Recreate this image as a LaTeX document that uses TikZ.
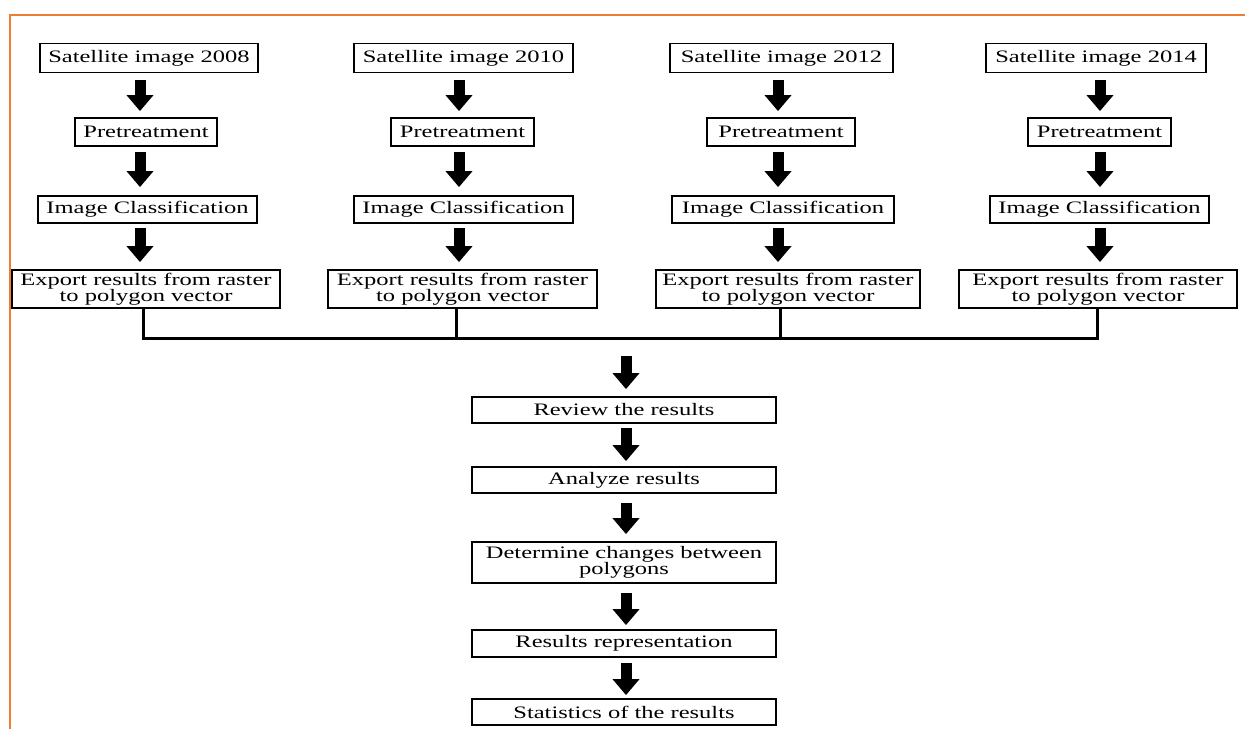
\documentclass[tikz,border=0pt]{standalone}
\usepackage{fontspec}
\setmainfont{Liberation Serif}[FakeStretch=1.4]
\usetikzlibrary{arrows.meta,calc}
\definecolor{frameorange}{RGB}{237,125,49}
\begin{document}
\begin{tikzpicture}[x=1pt,y=-1pt,
  box/.style={draw=black,line width=1.8pt,fill=white,inner sep=0pt,align=center,
    font=\fontsize{17.5}{16}\selectfont},
  bigarrow/.style={line width=11pt,-{Triangle[width=26pt,length=16pt]}},
  conn/.style={line width=3pt,line cap=rect},
  frameline/.style={draw=frameorange,line width=2.2pt}]
\useasboundingbox (0,0) rectangle (1245,729);
\draw[frameline] (10,729) -- (10,15) -- (1245,15);

% column 1
\node[box,minimum width=218pt,minimum height=29pt] (s1) at (149,58) {Satellite image 2008};
\node[box,minimum width=142pt,minimum height=28pt] (p1) at (146,132) {Pretreatment};
\node[box,minimum width=219pt,minimum height=27pt] (i1) at (147.5,209.5) {Image Classification};
\node[box,minimum width=268pt,minimum height=38pt] (e1) at (146,289) {Export results from raster\\to polygon vector};
% column 2
\node[box,minimum width=219pt,minimum height=29pt] (s2) at (463.5,58) {Satellite image 2010};
\node[box,minimum width=143pt,minimum height=28pt] (p2) at (462.5,132) {Pretreatment};
\node[box,minimum width=219pt,minimum height=27pt] (i2) at (463.5,209.5) {Image Classification};
\node[box,minimum width=269pt,minimum height=38pt] (e2) at (462.5,289) {Export results from raster\\to polygon vector};
% column 3
\node[box,minimum width=223pt,minimum height=29pt] (s3) at (781.5,58) {Satellite image 2012};
\node[box,minimum width=148pt,minimum height=28pt] (p3) at (781,132) {Pretreatment};
\node[box,minimum width=222pt,minimum height=27pt] (i3) at (783,209.5) {Image Classification};
\node[box,minimum width=264pt,minimum height=38pt] (e3) at (788,289) {Export results from raster\\to polygon vector};
% column 4
\node[box,minimum width=220pt,minimum height=29pt] (s4) at (1096,58) {Satellite image 2014};
\node[box,minimum width=143pt,minimum height=28pt] (p4) at (1099.5,132) {Pretreatment};
\node[box,minimum width=219pt,minimum height=27pt] (i4) at (1099.5,209.5) {Image Classification};
\node[box,minimum width=278pt,minimum height=38pt] (e4) at (1098,289) {Export results from raster\\to polygon vector};

% bus coordinates
\coordinate (k1) at (143,338);
\coordinate (k2) at (456,338);
\coordinate (k3) at (780,338);
\coordinate (k4) at (1097,338);
\coordinate (bus) at (626,338);
\coordinate (a1) at (140,0);
\coordinate (a2) at (459,0);
\coordinate (a3) at (778,0);
\coordinate (a4) at (1100,0);

% central column
\node[box,minimum width=304pt,minimum height=26pt] (r) at (624,410) {Review the results};
\node[box,minimum width=304pt,minimum height=26pt] (an) at (624,480) {Analyze results};
\node[box,minimum width=304pt,minimum height=41pt] (d) at (624,562.5) {Determine changes between\\polygons};
\node[box,minimum width=304pt,minimum height=27pt] (rr) at (624,643.5) {Results representation};
\node[box,minimum width=304pt,minimum height=26pt] (st) at (624,712) {Statistics of the results};

% column arrows
\foreach \c in {1,2,3,4}{
  \draw[bigarrow,shorten <=7pt,shorten >=6pt] (s\c.south -| a\c) -- (p\c.north -| a\c);
  \draw[bigarrow,shorten <=5pt,shorten >=8pt] (p\c.south -| a\c) -- (i\c.north -| a\c);
  \draw[bigarrow,shorten <=4pt,shorten >=7pt] (i\c.south -| a\c) -- (e\c.north -| a\c);
}

% bus
\draw[conn] (e1.south -| k1) -- (k1) -- (k4) -- (e4.south -| k4);
\draw[conn] (e2.south -| k2) -- (k2);
\draw[conn] (e3.south -| k3) -- (k3);

% central arrows
\draw[bigarrow,shorten <=18pt,shorten >=7pt] (bus) -- (r.north -| bus);
\draw[bigarrow,shorten <=4pt,shorten >=5pt] (r.south -| bus) -- (an.north -| bus);
\draw[bigarrow,shorten <=9pt,shorten >=7pt] (an.south -| bus) -- (d.north -| bus);
\draw[bigarrow,shorten <=9pt,shorten >=4pt] (d.south -| bus) -- (rr.north -| bus);
\draw[bigarrow,shorten <=5pt,shorten >=3pt] (rr.south -| bus) -- (st.north -| bus);
\end{tikzpicture}
\end{document}
